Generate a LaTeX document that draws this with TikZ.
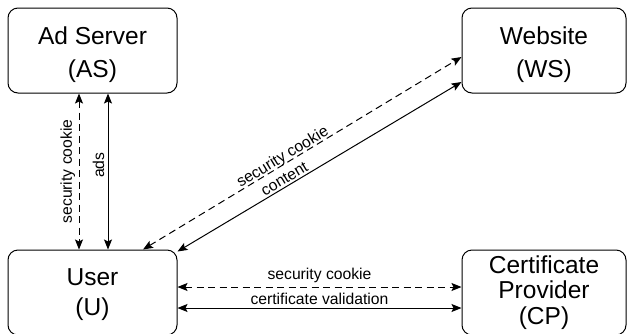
\documentclass[tikz,border=0pt]{standalone}
\usepackage{fontspec}
\setmainfont{Liberation Sans}
\usetikzlibrary{arrows.meta}
\begin{document}
\begin{tikzpicture}[x=1pt,y=-1pt,
  box/.style={draw, rounded corners=10pt, line width=1pt, minimum height=85pt, inner sep=0pt, align=center, font=\fontsize{24.5}{25.5}\selectfont},
  wide/.style={minimum width=169pt},
  narrow/.style={minimum width=164pt},
  link/.style={line width=1pt, {Stealth[length=10pt,width=8pt,inset=2pt]}-{Stealth[length=10pt,width=8pt,inset=2pt]}},
  dsh/.style={dash pattern=on 7pt off 4.5pt},
  lbl/.style={font=\fontsize{15.7}{18}\selectfont}]
\useasboundingbox (0,0) rectangle (627,333);
\clip (0,0) rectangle (627,333);
\node[box,wide] (AS) at (92.5,50.5) {\rule{0pt}{25.2pt}Ad Server\\[7.5pt](AS)};
\node[box,narrow] (WS) at (544,50.5) {\rule{0pt}{25.2pt}Website\\[7.5pt](WS)};
\node[box,wide] (U) at (92.5,292.5) {\rule{0pt}{20.2pt}User\\[4.5pt](U)};
\node[box,narrow] (CP) at (544,292.5) {Certificate\\Provider\\(CP)};
% AS <-> U
\draw[link,dsh] ([xshift=-13.5pt]AS.south) -- node[lbl,pos=0.5,rotate=90,anchor=south]{security cookie} ([xshift=-13.5pt]U.north);
\draw[link] ([xshift=15.5pt]AS.south) -- node[lbl,pos=0.46,rotate=90,anchor=south]{ads} ([xshift=15.5pt]U.north);
% U <-> WS
\draw[link,dsh] ([xshift=50.5pt]U.north) -- node[lbl,pos=0.45,sloped,anchor=south,inner xsep=0pt,inner ysep=-1.5pt]{security cookie} ([yshift=-6.5pt]WS.west);
\draw[link] ([yshift=-2pt]U.north east) -- node[lbl,pos=0.39,sloped,anchor=south,inner xsep=0pt,inner ysep=2pt]{content} ([yshift=-31.5pt]WS.west);
% U <-> CP
\draw[link,dsh] ([yshift=5.5pt]U.east) -- node[lbl,above]{security cookie} ([yshift=5.5pt]CP.west);
\draw[link] ([yshift=-15.5pt]U.east) -- node[lbl,above]{certificate validation} ([yshift=-15.5pt]CP.west);
\end{tikzpicture}
\end{document}
